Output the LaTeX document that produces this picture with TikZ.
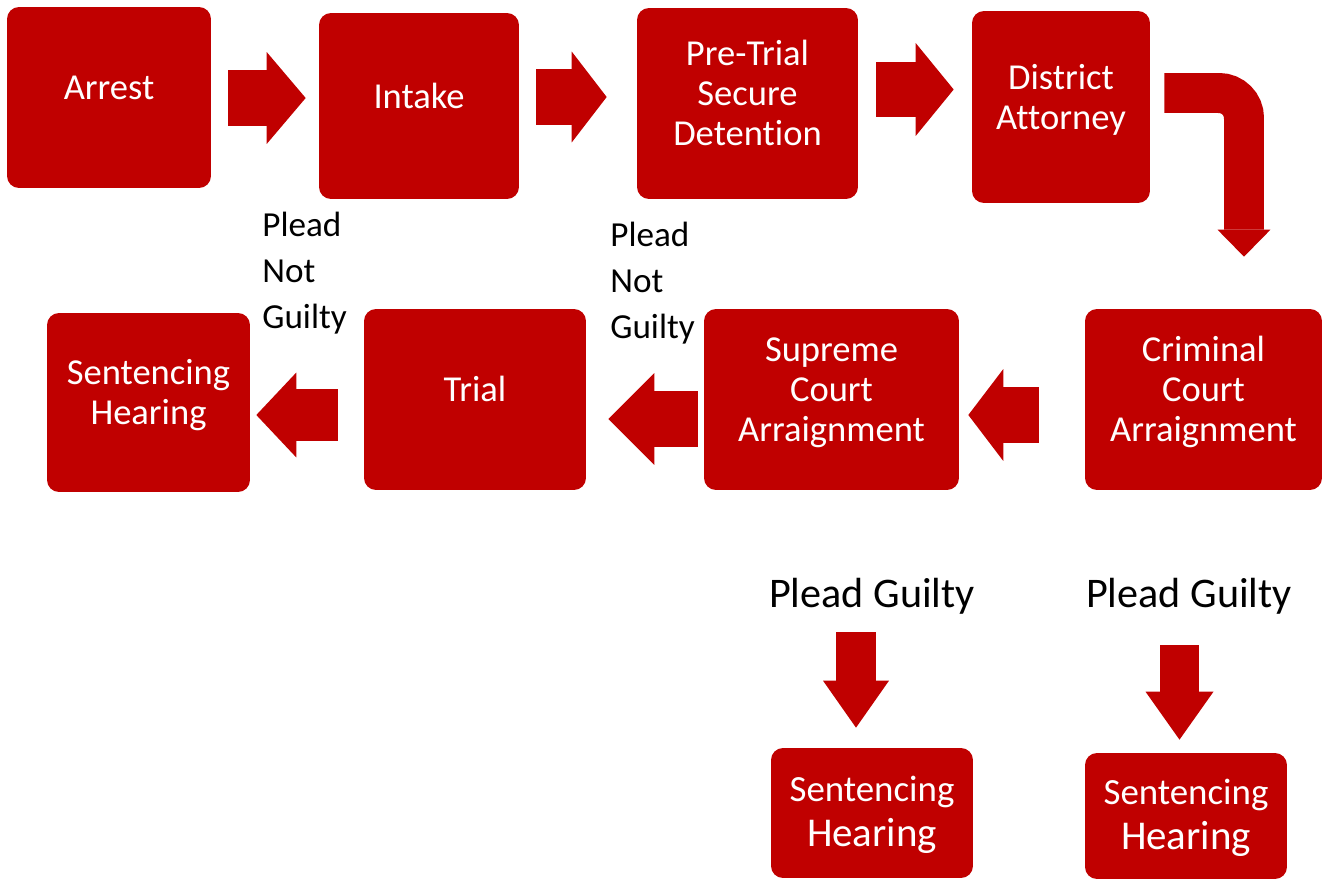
\documentclass[tikz,border=0pt]{standalone}
\usepackage{fontspec}
\setmainfont{Carlito}[Ligatures=NoCommon]
\usetikzlibrary{arrows.meta}
\definecolor{dred}{RGB}{192,0,0}
\newcommand{\boxlines}[1]{\raisebox{-1.8pt}[0pt][0pt]{\begin{tabular}{@{}c@{}}#1\end{tabular}}}
\newcommand{\lowlines}[1]{\raisebox{-6.1pt}[0pt][0pt]{\begin{tabular}{@{}c@{}}#1\end{tabular}}}

\begin{document}
\begin{tikzpicture}[x=0.02cm,y=-0.02cm,
	stage/.style={fill=dred,rounded corners=0.24cm,text=white,inner sep=0pt,font=\fontsize{20.8}{22.8}\selectfont},
	lowstage/.style={stage,font=\fontsize{21}{25.6}\selectfont},
	ngtxt/.style={inner sep=0pt,font=\fontsize{20}{26.2}\selectfont},
	pgtxt/.style={inner sep=0pt,text depth=0pt,font=\fontsize{24}{28}\selectfont},
	blk/.style n args={3}{draw=dred,line width=#1,-{Triangle[length=#2,width=#3,line width=0pt]}}]
	\useasboundingbox (0,0) rectangle (1326,879);
	% boxes
	\node[stage,minimum width=4.08cm,minimum height=3.62cm] (arrest) at (109,97.5) {\boxlines{Arrest}};
	\node[stage,minimum width=4.0cm,minimum height=3.72cm] (intake) at (419,106) {\boxlines{Intake}};
	\node[stage,minimum width=4.42cm,minimum height=3.82cm] (pretrial) at (747.5,103.5) {\boxlines{Pre-Trial\\Secure\\Detention}};
	\node[stage,minimum width=3.56cm,minimum height=3.84cm] (da) at (1061,107) {\boxlines{District\\Attorney}};
	\node[stage,minimum width=4.74cm,minimum height=3.62cm] (criminal) at (1203.5,399.5) {\boxlines{Criminal\\Court\\Arraignment}};
	\node[stage,minimum width=5.1cm,minimum height=3.62cm] (supreme) at (831.5,399.5) {\boxlines{Supreme\\Court\\Arraignment}};
	\node[stage,minimum width=4.44cm,minimum height=3.62cm] (trial) at (475,399.5) {\boxlines{Trial}};
	\node[stage,minimum width=4.06cm,minimum height=3.58cm] (senta) at (148.5,402.5) {\boxlines{Sentencing\\Hearing}};
	\node[lowstage,minimum width=4.04cm,minimum height=2.6cm] (sentb) at (872,813) {\lowlines{Sentencing\\{\fontsize{23.3}{25.6}\selectfont Hearing}}};
	\node[lowstage,minimum width=4.04cm,minimum height=2.52cm] (sentc) at (1186,816) {\lowlines{Sentencing\\{\fontsize{23.3}{25.6}\selectfont Hearing}}};
	% labels
	\node[ngtxt,anchor=base west] (notg1) at (262,236) {\begin{tabular}[t]{@{}l@{}}Plead\\Not\\Guilty\end{tabular}};
	\node[ngtxt,anchor=base west] (notg2) at (610,246) {\begin{tabular}[t]{@{}l@{}}Plead\\Not\\Guilty\end{tabular}};
	\node[pgtxt,anchor=base] (pg1) at (872,607) {Plead Guilty};
	\node[pgtxt,anchor=base] (pg2) at (1189,607) {Plead Guilty};
	% arrows, top row
	\draw[blk={1.12cm}{0.78cm}{1.84cm},shorten <=0.34cm,shorten >=0.26cm] (arrest.east |- 0,98) -- (intake.west |- 0,98);
	\draw[blk={1.12cm}{0.70cm}{1.82cm},shorten <=0.34cm,shorten >=0.6cm] (intake.east |- 0,97) -- (pretrial.west |- 0,97);
	\draw[blk={1.10cm}{0.76cm}{1.86cm},shorten <=0.36cm,shorten >=0.36cm] (pretrial.east |- 0,89.5) -- (da.west |- 0,89.5);
	\draw[blk={0.80cm}{0.54cm}{1.06cm},rounded corners=0.5cm,shorten <=0.28cm,shorten >=1.04cm] (da.east |- 0,93) -| ([xshift=0.81cm]criminal.north);
	% arrows, middle row
	\draw[blk={1.12cm}{0.70cm}{1.84cm},shorten <=0.92cm,shorten >=0.18cm] (criminal.west |- 0,415) -- (supreme.east |- 0,415);
	\draw[blk={1.12cm}{0.92cm}{1.84cm},shorten <=0.12cm,shorten >=0.44cm] (supreme.west |- 0,419) -- (trial.east |- 0,419);
	\draw[blk={1.04cm}{0.80cm}{1.70cm},shorten <=0.52cm,shorten >=0.12cm] (trial.west |- 0,415) -- (senta.east |- 0,415);
	% arrows, plead guilty
	\draw[blk={0.80cm}{0.94cm}{1.32cm},shorten <=0.5cm,shorten >=0.4cm] ([xshift=-0.32cm]pg1.south) -- ([xshift=-0.32cm]pg1.south |- sentb.north);
	\draw[blk={0.78cm}{0.96cm}{1.36cm},shorten <=0.76cm,shorten >=0.26cm] ([xshift=-0.19cm]pg2.south) -- ([xshift=-0.19cm]pg2.south |- sentc.north);
\end{tikzpicture}
\end{document}
